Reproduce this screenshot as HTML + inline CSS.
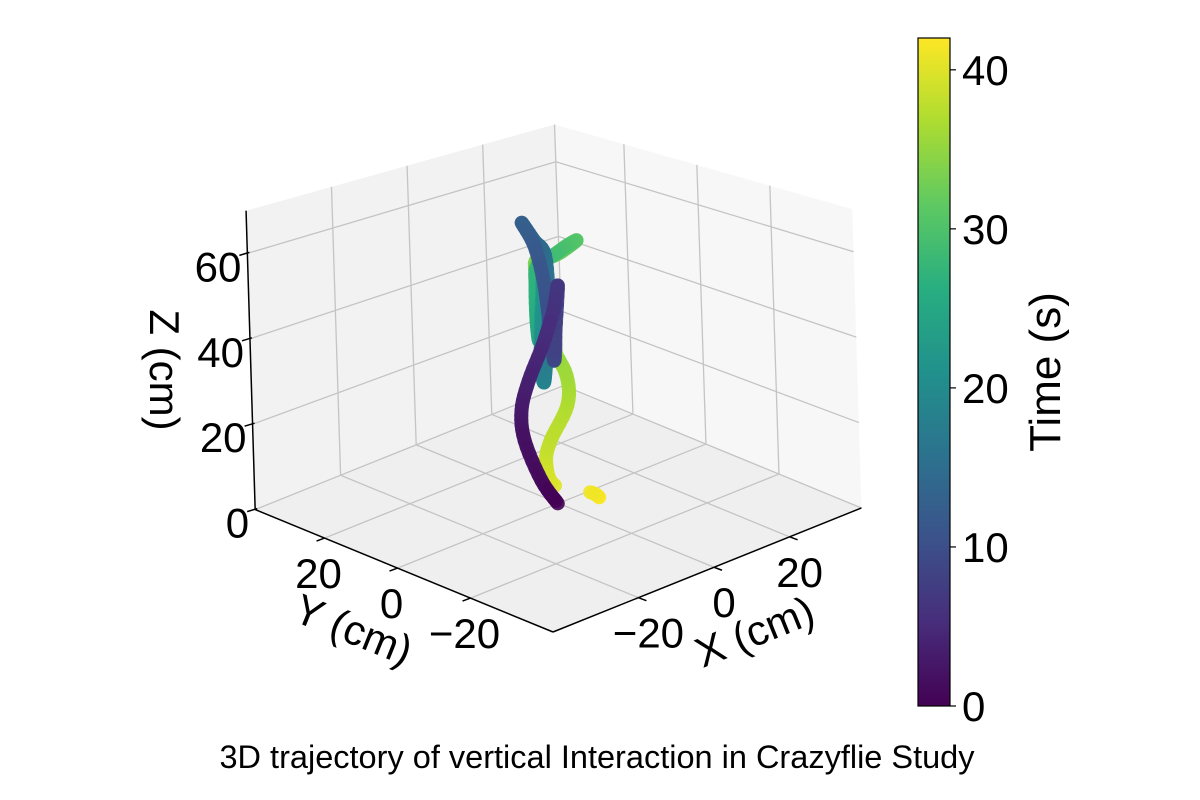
<!DOCTYPE html>
<html><head><meta charset="utf-8"><style>
html,body{margin:0;padding:0;background:#fff;}
svg{display:block;font-family:"Liberation Sans","DejaVu Sans",sans-serif;}
</style></head><body>
<svg id="chart" width="1200" height="800" viewBox="0 0 1200 800">
<defs>
<linearGradient id="vir" x1="0" y1="1" x2="0" y2="0">
<stop offset="0" stop-color="#440154"/><stop offset="0.125" stop-color="#472d7b"/><stop offset="0.25" stop-color="#3b528b"/><stop offset="0.375" stop-color="#2c728e"/><stop offset="0.5" stop-color="#21918c"/><stop offset="0.625" stop-color="#28ae80"/><stop offset="0.75" stop-color="#5ec962"/><stop offset="0.875" stop-color="#addc30"/><stop offset="1" stop-color="#fde725"/>
</linearGradient>
</defs>
<g id="panes"></g>
<g id="grid"></g>
<g id="axes"></g>
<g id="traj"></g>
<g id="labels" font-size="42" fill="#000"></g>
<text x="0" y="0" font-size="42" transform="translate(150,370) rotate(90)" text-anchor="middle">Z (cm)</text>
<text x="0" y="0" font-size="42" transform="translate(348,643) rotate(22)" text-anchor="middle">Y (cm)</text>
<text x="0" y="0" font-size="42" transform="translate(760,645) rotate(-22)" text-anchor="middle">X (cm)</text>
<rect x="918" y="38" width="32" height="668" fill="url(#vir)" stroke="#000" stroke-width="1.2"/>
<g id="cbar" font-size="42"></g>
<text x="0" y="0" font-size="44" transform="translate(1060,372) rotate(-90)" text-anchor="middle">Time (s)</text>
<text x="597" y="768" font-size="32.5" text-anchor="middle">3D trajectory of vertical Interaction in Crazyflie Study</text>
</svg>
<script>
const times=[0,1,2,3,4,5,6,7,8,9,10,11,12,13,14,15,16,17,18,19,20,21,22,23,24,25,26,27,28,29,30,31,32,33,34,35,36,37,38,39,40,41,42];
const xs=[-0.1,-2.2,-4.3,-4.6,-3.5,-1.5,0.1,0.8,0.3,0,-0.5,-1.1,-2.2,-3.8,-2.2,-0.8,-0.5,-0.8,-1.2,-1.5,-1.8,-1.5,-1.2,-1.1,-1.4,-1.9,-2.2,-2.2,-1.9,0.3,2.2,3.5,1.2,-1.1,-2.2,-0.4,1.6,1.6,-0.8,-1.5,-0.4,4.3,5.5];
const zs=[0,5.4,14.8,21.9,28.9,37.2,45.4,51.3,40.7,33.6,43,52.5,60.7,66.1,61.9,58.4,47.8,38.4,31.3,28.5,33.6,43,50.1,57.2,47.8,38.4,43,51.3,56,58.4,60.7,61.9,59,57.2,55.3,38.4,30.1,23.1,14.8,9.6,4.2,2.6,1.4];
const zTicks=[0,20,40,60];
const xyTicks=[-20,0,20];
const cbTicks=[0,10,20,30,40];
const XMIN=-42.6,XMAX=39,YMIN=-42.6,YMAX=39,ZMAX=70,TMAX=42;
const NS="http://www.w3.org/2000/svg";
function P(x,y,z){
  const dx=x-XMIN, dy=y-YMIN;
  const d=(dx+dy)/(2*81.6);
  const s=4.81-1.08*d;
  return [553+3.78*dx-3.65*dy-0.13*z, 632-1.52*dx-1.5*dy-s*z];
}
function el(tag,attrs,parent){const e=document.createElementNS(NS,tag);for(const k in attrs)e.setAttribute(k,attrs[k]);parent.appendChild(e);return e;}
function poly(pts){return pts.map(p=>p[0].toFixed(1)+","+p[1].toFixed(1)).join(" ");}
const panes=document.getElementById('panes');
let p=el('polygon',{points:poly([P(XMIN,YMAX,0),P(XMAX,YMAX,0),P(XMAX,YMAX,ZMAX),P(XMIN,YMAX,ZMAX)]),fill:'#f2f2f2'},panes);


p=el('polygon',{points:poly([P(XMAX,YMIN,0),P(XMAX,YMAX,0),P(XMAX,YMAX,ZMAX),P(XMAX,YMIN,ZMAX)]),fill:'#f7f7f7'},panes);


p=el('polygon',{points:poly([P(XMIN,YMIN,0),P(XMAX,YMIN,0),P(XMAX,YMAX,0),P(XMIN,YMAX,0)]),fill:'#efefef'},panes);


const grid=document.getElementById('grid');
function gl(a,b){const l=el('line',{x1:a[0],y1:a[1],x2:b[0],y2:b[1],stroke:'#c4c4c4','stroke-width':1.3},grid);

}
xyTicks.forEach(v=>{
  gl(P(v,YMIN,0),P(v,YMAX,0));gl(P(v,YMAX,0),P(v,YMAX,ZMAX));
  gl(P(XMIN,v,0),P(XMAX,v,0));gl(P(XMAX,v,0),P(XMAX,v,ZMAX));
});
zTicks.forEach(v=>{gl(P(XMIN,YMAX,v),P(XMAX,YMAX,v));gl(P(XMAX,YMAX,v),P(XMAX,YMIN,v));});
gl(P(XMAX,YMAX,0),P(XMAX,YMAX,ZMAX));
const axes=document.getElementById('axes');
function al(a,b,name){const l=el('line',{x1:a[0],y1:a[1],x2:b[0],y2:b[1],stroke:'#000','stroke-width':1.5},axes);

}
al(P(XMIN,YMAX,0),P(XMIN,YMAX,ZMAX),'z-axis-line');
al(P(XMIN,YMIN,0),P(XMIN,YMAX,0),'y-axis-line');
al(P(XMIN,YMIN,0),P(XMAX,YMIN,0),'x-axis-line');
const lab=document.getElementById('labels');
zTicks.forEach(v=>{const a=P(XMIN,YMAX,v);al([a[0]-8,a[1]+2],[a[0]+2,a[1]-1],'z-tick');
  const t=el('text',{x:a[0]-6,y:a[1]+28,'text-anchor':'end'},lab);t.textContent=v;
  
  });
xyTicks.forEach(v=>{const a=P(XMIN,v,0);al([a[0],a[1]],[a[0]-8,a[1]+3],'y-tick');
  const t=el('text',{x:a[0]-6,y:a[1]+50,'text-anchor':'middle'},lab);t.textContent=(v<0?'\u2212':'')+Math.abs(v);
  
  
  const b=P(v,YMIN,0);al([b[0],b[1]],[b[0]+8,b[1]+3],'x-tick');
  const t2=el('text',{x:b[0]+10,y:b[1]+50,'text-anchor':'middle'},lab);t2.textContent=(v<0?'\u2212':'')+Math.abs(v);
  
  });
const stops=[[68,1,84],[71,45,123],[59,82,139],[44,114,142],[33,145,140],[40,174,128],[94,201,98],[173,220,48],[253,231,37]];
function vir(f){f=Math.max(0,Math.min(1,f))*8;const i=Math.min(7,Math.floor(f)),r=f-i;const a=stops[i],b=stops[i+1];
  return 'rgb('+a.map((c,k)=>Math.round(c+(b[k]-c)*r)).join(',')+')';}
const traj=document.getElementById('traj');
const segs=[];
for(let i=0;i<times.length-1;i++){
  if(i===40) continue;
  const i0=Math.max(0,i-1),i3=Math.min(times.length-1,i+2);
  for(let s=0;s<6;s++){
    const u0=s/6,u1=(s+1)/6;
    function cr(arr,u){const p0=arr[i0],p1=arr[i],p2=arr[i+1],p3=arr[i3];
      return 0.5*((2*p1)+(-p0+p2)*u+(2*p0-5*p1+4*p2-p3)*u*u+(-p0+3*p1-3*p2+p3)*u*u*u);}
    const a=P(cr(xs,u0),-cr(xs,u0),cr(zs,u0)),b=P(cr(xs,u1),-cr(xs,u1),cr(zs,u1));
    const t=times[i]+(times[i+1]-times[i])*(u0+u1)/2;
    segs.push([a,b,t]);
  }
}
segs.reverse().forEach(sg=>{
  const l=el('line',{x1:sg[0][0],y1:sg[0][1],x2:sg[1][0],y2:sg[1][1],stroke:vir(sg[2]/TMAX),'stroke-width':14,'stroke-linecap':'round','stroke-opacity':0.9},traj);
  
  
});
const cb=document.getElementById('cbar');
cbTicks.forEach(v=>{const y=706-668*v/TMAX;
  const l=el('line',{x1:950,y1:y,x2:956,y2:y,stroke:'#000','stroke-width':1.2},cb);
  
  
  const t=el('text',{x:962,y:y+15},cb);t.textContent=v;
  
  });
</script>
</body></html>
